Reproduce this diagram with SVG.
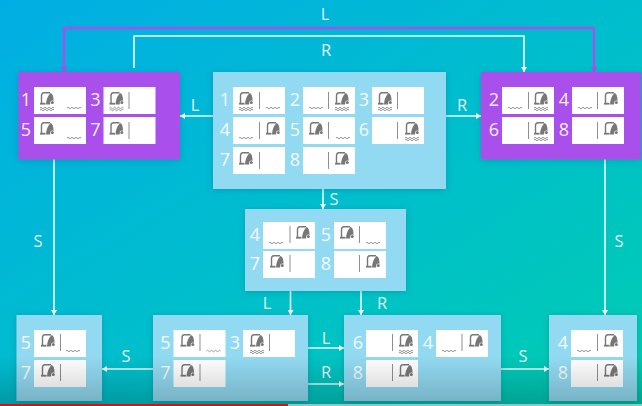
<svg xmlns="http://www.w3.org/2000/svg" width="642" height="406" viewBox="0 0 642 406">
<style>
text{font-family:"Open Sans","Liberation Sans",sans-serif;font-size:16.5px;fill:#fff;fill-opacity:.92;text-anchor:middle}
g g text{font-size:18px}
.w{fill:none;stroke:#fff;stroke-opacity:.92;stroke-width:1.6}
.p{fill:none;stroke:#a94fec;stroke-width:2.4}
.pp{fill:#a94fec}
.lb{fill:#92daf1}
.dv{stroke:#8f8f8f;stroke-width:1}
</style>
<defs>
<linearGradient id="bg" x1="0" y1="0" x2="1" y2="1"><stop offset="0" stop-color="#01aee4"/><stop offset=".55" stop-color="#00bfcb"/><stop offset="1" stop-color="#00cdb0"/></linearGradient>
<linearGradient id="sh" x1="0" y1="0" x2="0" y2="1"><stop offset="0" stop-color="#000" stop-opacity="0"/><stop offset="1" stop-color="#000" stop-opacity=".2"/></linearGradient>
<filter id="f" x="-10%" y="-10%" width="120%" height="120%"><feDropShadow dx="0" dy="1" stdDeviation="3" flood-color="#005a70" flood-opacity=".3"/></filter>
<marker id="a" markerWidth="6" markerHeight="6" refX="5" refY="3" orient="auto" markerUnits="userSpaceOnUse"><path d="M0 0L5 3L0 6z" fill="#fff"/></marker>
<marker id="ap" markerWidth="7" markerHeight="7" refX="5" refY="3.500" orient="auto" markerUnits="userSpaceOnUse"><path d="M0 0L5 3.500L0 7z" fill="#a94fec"/></marker>
<rect id="c" width="52" height="27" fill="#fff"/>
<g id="v"><path d="M1.500 12V3.500Q1.500 .8 4 .8H10" fill="none" stroke="#777" stroke-width="1.400"/><rect x="0" y="10.800" width="5.500" height="1.800" fill="#777"/><path d="M6 12.500Q6 6 10.500 1Q13.500 1.500 13.500 9H11L10 12.500z" fill="#777"/><circle cx="12.300" cy="10.500" r="2" fill="#fff"/><circle cx="12.300" cy="10.500" r="1.500" fill="#777"/></g>
<path id="d" d="M0 1q1-1.500 2 0t2 0t2 0t2 0t2 0t2 0t2 0" fill="none" stroke="#777" stroke-width=".8"/>
<g id="dd"><use href="#d"/><use href="#d" y="2"/></g>
</defs>
<rect width="642" height="406" fill="url(#bg)"/>
<g id="connectors">
<path class="p" marker-end="url(#ap)" d="M594 28H64V72"/>
<path class="p" marker-end="url(#ap)" d="M594 28V72"/>
<path class="w" marker-end="url(#a)" d="M134 68V36H524V72"/>
<path class="w" marker-end="url(#a)" d="M213 116H180"/>
<path class="w" marker-end="url(#a)" d="M446 116H481"/>
<path class="w" marker-end="url(#a)" d="M323 189V209"/>
<path class="w" marker-end="url(#a)" d="M54 159V315"/>
<path class="w" marker-end="url(#a)" d="M605 159V315"/>
<path class="w" marker-end="url(#a)" d="M290.500 291V315"/>
<path class="w" marker-end="url(#a)" d="M361 291V315"/>
<path class="w" marker-end="url(#a)" d="M153 369H102"/>
<path class="w" marker-end="url(#a)" d="M308 348H344"/>
<path class="w" marker-end="url(#a)" d="M308 384H344"/>
<path class="w" marker-end="url(#a)" d="M501 369H549"/>
<text x="325" y="20">L</text><text x="326" y="56">R</text>
<text x="195" y="111">L</text><text x="462" y="111">R</text>
<text x="334" y="205">S</text><text x="38" y="247">S</text><text x="619" y="247">S</text>
<text x="267" y="309">L</text><text x="382" y="309">R</text>
<text x="126" y="362">S</text><text x="326" y="344">L</text><text x="326" y="378">R</text><text x="523" y="362">S</text>
</g>
<g id="node-left" transform="translate(18.500 72)">
<rect class="pp" width="161.500" height="87.500" filter="url(#f)"/>
<g transform="translate(15.500 15)"><use href="#c"/><use href="#v" x="6" y="5"/><use href="#dd" x="6" y="20"/><use href="#d" x="33" y="20"/><text x="-8" y="19">1</text></g>
<g transform="translate(85 15)"><use href="#c"/><use href="#v" x="6" y="5"/><use href="#dd" x="6" y="20"/><path class="dv" d="M25.500 5V22"/><text x="-8" y="19">3</text></g>
<g transform="translate(15.500 45)"><use href="#c"/><use href="#v" x="6" y="5"/><use href="#d" x="33" y="20"/><text x="-8" y="19">5</text></g>
<g transform="translate(85 45)"><use href="#c"/><use href="#v" x="6" y="5"/><path class="dv" d="M25.500 5V22"/><text x="-8" y="19">7</text></g>
</g>
<g id="node-root" transform="translate(213 72)">
<rect class="lb" width="233" height="117" filter="url(#f)"/>
<g transform="translate(20 15)"><use href="#c"/><use href="#v" x="6" y="5"/><use href="#dd" x="6" y="20"/><path class="dv" d="M26.500 5V22"/><use href="#d" x="33" y="20"/><text x="-8" y="19">1</text></g>
<g transform="translate(90 15)"><use href="#c"/><use href="#d" x="6" y="20"/><path class="dv" d="M25.500 5V22"/><use href="#v" x="32" y="5"/><use href="#dd" x="32" y="20"/><text x="-8" y="19">2</text></g>
<g transform="translate(159 15)"><use href="#c"/><use href="#v" x="6" y="5"/><use href="#dd" x="6" y="20"/><path class="dv" d="M25.500 5V22"/><text x="-8" y="19">3</text></g>
<g transform="translate(20 45)"><use href="#c"/><use href="#d" x="6" y="20"/><path class="dv" d="M26.500 5V22"/><use href="#v" x="33" y="5"/><text x="-8" y="19">4</text></g>
<g transform="translate(90 45)"><use href="#c"/><use href="#v" x="6" y="5"/><path class="dv" d="M25.500 5V22"/><use href="#d" x="33" y="20"/><text x="-8" y="19">5</text></g>
<g transform="translate(159 45)"><use href="#c"/><path class="dv" d="M25.500 5V22"/><use href="#v" x="33" y="5"/><use href="#dd" x="33" y="20"/><text x="-8" y="19">6</text></g>
<g transform="translate(20 75)"><use href="#c"/><use href="#v" x="6" y="5"/><path class="dv" d="M26.500 5V22"/><text x="-8" y="19">7</text></g>
<g transform="translate(90 75)"><use href="#c"/><path class="dv" d="M25.500 5V22"/><use href="#v" x="32" y="5"/><text x="-8" y="19">8</text></g>
</g>
<g id="node-right" transform="translate(481 72)">
<rect class="pp" width="160" height="87.500" filter="url(#f)"/>
<g transform="translate(21 15)"><use href="#c"/><use href="#d" x="6" y="20"/><path class="dv" d="M26.500 5V22"/><use href="#v" x="32" y="5"/><use href="#dd" x="32" y="20"/><text x="-8" y="19">2</text></g>
<g transform="translate(91 15)"><use href="#c"/><use href="#d" x="6" y="20"/><path class="dv" d="M25.500 5V22"/><use href="#v" x="32" y="5"/><text x="-8" y="19">4</text></g>
<g transform="translate(21 45)"><use href="#c"/><path class="dv" d="M26.500 5V22"/><use href="#v" x="32" y="5"/><use href="#dd" x="32" y="20"/><text x="-8" y="19">6</text></g>
<g transform="translate(91 45)"><use href="#c"/><path class="dv" d="M25.500 5V22"/><use href="#v" x="32" y="5"/><text x="-8" y="19">8</text></g>
</g>
<g id="node-mid" transform="translate(245 209)">
<rect class="lb" width="161" height="82" filter="url(#f)"/>
<g transform="translate(18 13)"><use href="#c"/><use href="#d" x="6" y="20"/><path class="dv" d="M27 4V21"/><use href="#v" x="33" y="4"/><text x="-8" y="19">4</text></g>
<g transform="translate(89 13)"><use href="#c"/><use href="#v" x="6" y="4"/><path class="dv" d="M25.500 4V21"/><use href="#d" x="32" y="20"/><text x="-8" y="19">5</text></g>
<g transform="translate(18 42)"><use href="#c"/><use href="#v" x="7" y="4"/><path class="dv" d="M27 4V21"/><text x="-8" y="19">7</text></g>
<g transform="translate(89 42)"><use href="#c"/><path class="dv" d="M25.500 4V21"/><use href="#v" x="32" y="4"/><text x="-8" y="19">8</text></g>
</g>
<g id="node-b1" transform="translate(16.500 315)">
<rect class="lb" width="85.500" height="86" filter="url(#f)"/>
<g transform="translate(17.500 15)"><use href="#c"/><use href="#v" x="7" y="4"/><path class="dv" d="M26.500 4V21"/><use href="#d" x="32" y="20"/><text x="-8" y="19">5</text></g>
<g transform="translate(17.500 45)"><use href="#c"/><use href="#v" x="7" y="4"/><path class="dv" d="M26.500 4V21"/><text x="-8" y="19">7</text></g>
</g>
<g id="node-b2" transform="translate(153 315)">
<rect class="lb" width="155" height="86" filter="url(#f)"/>
<g transform="translate(20.500 15)"><use href="#c"/><use href="#v" x="7" y="4"/><path class="dv" d="M26.500 4V21"/><use href="#d" x="33" y="20"/><text x="-8" y="19">5</text></g>
<g transform="translate(90 15)"><use href="#c"/><use href="#v" x="7" y="4"/><use href="#dd" x="7" y="20"/><path class="dv" d="M26.500 4V21"/><text x="-8" y="19">3</text></g>
<g transform="translate(20.500 45)"><use href="#c"/><use href="#v" x="7" y="4"/><path class="dv" d="M26.500 4V21"/><text x="-8" y="19">7</text></g>
</g>
<g id="node-b3" transform="translate(344 315)">
<rect class="lb" width="157" height="86" filter="url(#f)"/>
<g transform="translate(22 15)"><use href="#c"/><path class="dv" d="M26.500 4V21"/><use href="#v" x="33" y="4"/><use href="#dd" x="33" y="20"/><text x="-8" y="19">6</text></g>
<g transform="translate(92 15)"><use href="#c"/><use href="#d" x="6" y="20"/><path class="dv" d="M26 4V21"/><use href="#v" x="33" y="4"/><text x="-8" y="19">4</text></g>
<g transform="translate(22 45)"><use href="#c"/><path class="dv" d="M26.500 4V21"/><use href="#v" x="33" y="4"/><text x="-8" y="19">8</text></g>
</g>
<g id="node-b4" transform="translate(549 315)">
<rect class="lb" width="88" height="86" filter="url(#f)"/>
<g transform="translate(22 15)"><use href="#c"/><use href="#d" x="6" y="20"/><path class="dv" d="M26.500 4V21"/><use href="#v" x="33" y="4"/><text x="-8" y="19">4</text></g>
<g transform="translate(22 45)"><use href="#c"/><path class="dv" d="M26.500 4V21"/><use href="#v" x="33" y="4"/><text x="-8" y="19">8</text></g>
</g>
<rect y="356" width="642" height="50" fill="url(#sh)"/>
<rect y="404" width="288" height="2" fill="#f00"/>
<rect x="288" y="404" width="354" height="2" fill="#8fc8c0"/>
</svg>
